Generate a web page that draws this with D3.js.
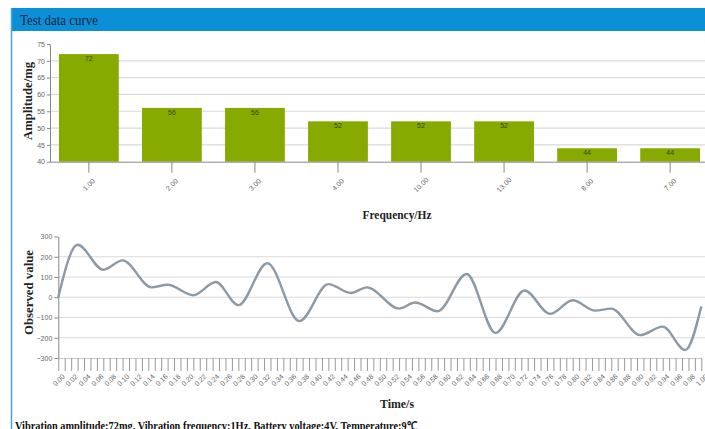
<!DOCTYPE html>
<html>
<head>
<meta charset="utf-8">
<script src="https://cdn.jsdelivr.net/npm/d3@7"></script>
<style>
  html, body { margin: 0; padding: 0; background: #fff; }
  svg { display: block; }
</style>
</head>
<body>
<svg id="chart" width="705" height="429"></svg>
<script>
// Amplitude measured at each detected frequency
const freqLabels = ["1.00", "2.00", "3.00", "4.00", "10.00", "13.00", "8.00", "7.00"];
const amplitudes = [72, 56, 56, 52, 52, 52, 44, 44];
const amplitudeTicks = [40, 45, 50, 55, 60, 65, 70, 75];

// Waveform turning points over one second of sampling
const times = [0.00, 0.03, 0.07, 0.10, 0.145, 0.17, 0.21, 0.245, 0.28, 0.325,
               0.375, 0.42, 0.455, 0.48, 0.53, 0.555, 0.59, 0.635, 0.68, 0.725,
               0.765, 0.80, 0.835, 0.86, 0.905, 0.94, 0.975, 1.00];
const observed = [0, 259, 136, 182, 49, 62, 10, 75, -39, 168,
                  -118, 65, 21, 49, -56, -26, -69, 115, -176, 33,
                  -82, -15, -66, -56, -187, -145, -261, -45];
const observedTicks = [-300, -200, -100, 0, 100, 200, 300];
const timeTicks = d3.range(101).map(i => i / 100);

const svg = d3.select("#chart");
const serif = "'Liberation Serif', 'Times New Roman', serif";
const sans = "'Liberation Sans', Arial, sans-serif";

// ---- Panel frame ----
svg.append("rect").attr("x", 11).attr("y", 8).attr("width", 694).attr("height", 23)
  .attr("fill", "#0b8fd6");
svg.append("line").attr("x1", 11.5).attr("x2", 11.5).attr("y1", 8).attr("y2", 429)
  .attr("stroke", "#45a6e0").attr("stroke-width", 1.5);
svg.append("text").attr("x", 20).attr("y", 25)
  .attr("font-family", serif).attr("font-size", 15).attr("fill", "#14233a")
  .attr("textLength", 78).attr("lengthAdjust", "spacingAndGlyphs")
  .text("Test data curve");

// ---- Bar chart: amplitude by frequency ----
const xBand = d3.scaleBand().domain(freqLabels).range([50, 709])
  .paddingInner(0.28).paddingOuter(0.108);
const yAmp = d3.scaleLinear().domain([40, 75]).range([161.7, 44]);

const barChart = svg.append("g");
barChart.append("g").selectAll("line")
  .data(amplitudeTicks.filter(v => v > 40 && v < 75))
  .join("line")
  .attr("x1", 50).attr("x2", 705)
  .attr("y1", d => yAmp(d)).attr("y2", d => yAmp(d))
  .attr("stroke", "#dadada").attr("stroke-width", 1.2);

barChart.append("g").selectAll("rect")
  .data(amplitudes)
  .join("rect")
  .attr("x", (d, i) => xBand(freqLabels[i]))
  .attr("width", xBand.bandwidth())
  .attr("y", d => yAmp(d))
  .attr("height", d => yAmp(40) - yAmp(d))
  .attr("fill", "#86aa00");

barChart.append("g").selectAll("text")
  .data(amplitudes)
  .join("text")
  .attr("x", (d, i) => xBand(freqLabels[i]) + xBand.bandwidth() / 2)
  .attr("y", d => yAmp(d) + 7)
  .attr("text-anchor", "middle")
  .attr("font-family", sans).attr("font-size", 7).attr("fill", "#3a4420")
  .text(d => d);

const yAmpAxis = barChart.append("g").attr("transform", "translate(50,0)")
  .call(d3.axisLeft(yAmp).tickValues(amplitudeTicks).tickSize(3).tickSizeOuter(0).tickPadding(2));
const xFreqAxis = barChart.append("g").attr("transform", `translate(0,${yAmp(40)})`)
  .call(d3.axisBottom(xBand).tickSize(11).tickSizeOuter(0));
xFreqAxis.selectAll(".tick text")
  .attr("y", 0).attr("dy", "0.35em")
  .attr("text-anchor", "middle")
  .attr("transform", "translate(0,23) rotate(-45)");

// ---- Line chart: observed waveform ----
const xTime = d3.scaleLinear().domain([0, 1]).range([58.3, 701.3]);
const yObs = d3.scaleLinear().domain([-300, 300]).range([358, 236.5]);

const lineChart = svg.append("g");
lineChart.append("g").selectAll("line")
  .data(observedTicks.filter(v => v > -300 && v < 300))
  .join("line")
  .attr("x1", 58.3).attr("x2", 705)
  .attr("y1", d => yObs(d)).attr("y2", d => yObs(d))
  .attr("stroke", "#dadada").attr("stroke-width", 1.2);

const yObsAxis = lineChart.append("g").attr("transform", "translate(58.3,0)")
  .call(d3.axisLeft(yObs).tickValues(observedTicks).tickSize(4).tickSizeOuter(0).tickPadding(2));
const xTimeAxis = lineChart.append("g").attr("transform", `translate(0,${yObs(-300)})`)
  .call(d3.axisBottom(xTime).tickValues(timeTicks).tickSize(13).tickSizeOuter(0)
    .tickFormat((d, i) => i % 2 === 0 ? d3.format(".2f")(d) : ""));
xTimeAxis.selectAll(".tick text")
  .attr("y", 0).attr("dy", "0.35em")
  .attr("text-anchor", "middle")
  .attr("transform", "translate(0,22) rotate(-45)");

const waveLine = d3.line()
  .x((d, i) => xTime(times[i]))
  .y(d => yObs(d))
  .curve(d3.curveMonotoneX);
lineChart.append("path")
  .datum(observed)
  .attr("d", waveLine)
  .attr("fill", "none")
  .attr("stroke", "#8d9aa6")
  .attr("stroke-width", 2.4);

// Shared axis styling
[yAmpAxis, xFreqAxis, yObsAxis, xTimeAxis].forEach(ax => {
  ax.select(".domain").attr("stroke", "#888");
  ax.selectAll(".tick line").attr("stroke", "#888");
  ax.selectAll(".tick text").attr("font-family", sans).attr("font-size", 7).attr("fill", "#666");
});
xTimeAxis.select(".domain").attr("stroke", "#ccc");
xTimeAxis.selectAll(".tick line").attr("stroke", "#999");

// ---- Axis titles and summary ----
function title(x, y, text, len, rotate) {
  const t = svg.append("text")
    .attr("font-family", serif).attr("font-weight", "bold").attr("font-size", 13)
    .attr("fill", "#222").attr("text-anchor", "middle")
    .attr("textLength", len).attr("lengthAdjust", "spacingAndGlyphs")
    .text(text);
  if (rotate) t.attr("transform", `translate(${x},${y}) rotate(-90)`);
  else t.attr("x", x).attr("y", y);
}
title(31.5, 101, "Amplitude/mg", 78, true);
title(397, 219, "Frequency/Hz", 69, false);
title(33, 292.5, "Observed value", 85, true);
title(397, 407.5, "Time/s", 34, false);

svg.append("text").attr("x", 15).attr("y", 429.5)
  .attr("font-family", serif).attr("font-weight", "bold").attr("font-size", 12)
  .attr("fill", "#111")
  .attr("textLength", 402).attr("lengthAdjust", "spacingAndGlyphs")
  .text("Vibration amplitude:72mg, Vibration frequency:1Hz, Battery voltage:4V, Temperature:9℃");
</script>
</body>
</html>
